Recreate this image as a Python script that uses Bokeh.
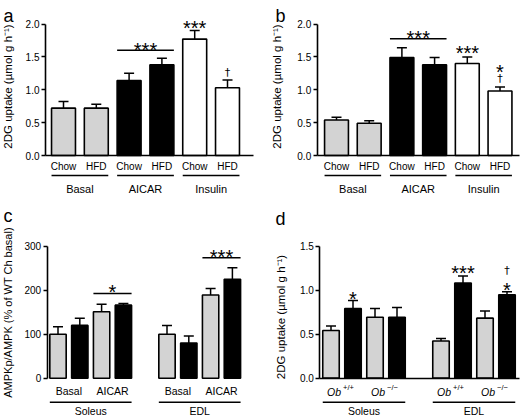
import math
from bokeh.plotting import figure
from bokeh.models import (ColumnDataSource, FixedTicker, PrintfTickFormatter,
                          Whisker, TeeHead, Range1d)
from bokeh.layouts import column, row
from bokeh.embed import file_html
from bokeh.resources import INLINE
from bokeh.core.properties import value

# ---------------- data ----------------
ab_treatments = ["Basal", "AICAR", "Insulin"]
ab_diets = ["Chow", "HFD"]

a_mean = [0.72, 0.72, 1.14, 1.38, 1.77, 1.03]
a_sem = [0.10, 0.06, 0.11, 0.10, 0.13, 0.12]
a_marks = ["", "", "", "", "***", "\u2020"]
a_marks_upper = ["", "", "", "", "", ""]
a_pair_marks = ["", "***", ""]

b_mean = [0.54, 0.49, 1.49, 1.38, 1.40, 0.98]
b_sem = [0.04, 0.04, 0.15, 0.11, 0.10, 0.06]
b_marks = ["", "", "", "", "***", "\u2020"]
b_marks_upper = ["", "", "", "", "", "*"]
b_pair_marks = ["", "***", ""]

c_muscles = ["Soleus", "EDL"]
c_conditions = ["Basal", "AICAR"]
c_mean = [100, 120, 151, 166, 100, 80, 189, 225]
c_sem = [17, 16, 17, 4, 20, 16, 15, 26]
c_pair_marks = ["", "*", "", "***"]

d_muscles = ["Soleus", "EDL"]
d_genotypes = ["+/+", "\u2212/\u2212"]
d_mean = [0.54, 0.79, 0.69, 0.69, 0.42, 1.08, 0.68, 0.945]
d_sem = [0.05, 0.09, 0.10, 0.11, 0.03, 0.08, 0.08, 0.035]
d_marks = ["", "*", "", "", "", "***", "", "*"]
d_marks_upper = ["", "", "", "", "", "", "", "\u2020"]

ylabel_uptake = "2DG uptake (\u00b5mol g h\u207b\u00b9)"
ylabel_ampk = "AMPKp/AMPK (% of WT Ch basal)"

# ---------------- style ----------------
FONT = "Liberation Sans"
DAG_FONT = "DejaVu Sans"
GREY = "#d3d3d3"
STAR_SIZE = 20
DAG_SIZE = 11
STAR_C = 0.40 * STAR_SIZE   # visual centre of asterisk above text anchor
DAG_C = 0.15 * DAG_SIZE


def make_panel(canvas, axis_px, right_px, x_first, slot, zero, ppu, top, ticks, fmt, baseline):
    cl, ct, cw, ch = canvas
    X = lambda px: (px - x_first) / slot
    Y = lambda py: (zero - py) / ppu
    p = figure(width=cw, height=ch,
               x_range=Range1d(X(cl), X(cl + cw)), y_range=Range1d(Y(ct + ch), Y(ct)),
               min_border=0, min_border_left=0, min_border_right=0,
               min_border_top=0, min_border_bottom=0,
               output_backend="svg", toolbar_location=None, tools="",
               x_axis_location="below" if baseline else None, title=None)
    p.outline_line_color = None
    p.grid.visible = False
    p.background_fill_color = "white"
    p.border_fill_color = "white"
    ax = p.yaxis[0]
    ax.fixed_location = X(axis_px)
    ax.ticker = FixedTicker(ticks=ticks)
    ax.formatter = PrintfTickFormatter(format=fmt)
    ax.bounds = (0, top)
    ax.axis_line_width = 1.6
    ax.axis_line_color = "black"
    ax.major_tick_line_width = 1.4
    ax.major_tick_line_color = "black"
    ax.major_tick_out = 4
    ax.major_tick_in = 0
    ax.minor_tick_out = 0
    ax.minor_tick_in = 0
    ax.major_label_text_font = FONT
    ax.major_label_text_font_size = "10px"
    ax.major_label_text_color = "black"
    ax.major_label_standoff = 2
    if baseline:
        xa = p.xaxis[0]
        xa.fixed_location = 0
        xa.bounds = (X(axis_px), X(right_px))
        xa.ticker = FixedTicker(ticks=[])
        xa.major_tick_out = 0
        xa.major_tick_in = 0
        xa.minor_tick_out = 0
        xa.minor_tick_in = 0
        xa.major_label_text_font_size = "0px"
        xa.axis_line_width = 1.6
        xa.axis_line_color = "black"
    return p, X, Y


def bars(p, xs, mean, sem, colors, width):
    hi = [m + s for m, s in zip(mean, sem)]
    src = ColumnDataSource(dict(x=xs, top=mean, hi=hi, color=colors))
    p.add_layout(Whisker(source=src, base="x", lower="top", upper="hi", dimension="height",
                         line_width=1.5, line_color="black",
                         upper_head=TeeHead(size=10, line_width=1.5, line_color="black"),
                         lower_head=None))
    p.vbar(x="x", top="top", bottom=0, width=width, fill_color="color",
           line_color="black", line_width=1.6, source=src)
    return hi


def mark_text(p, xs, ys, texts, size, font=FONT):
    p.text(x=xs, y=ys, text=texts, text_font=value(font), text_font_size=value(f"{size}px"),
           text_align="center", text_baseline="alphabetic", text_color="black")


def bar_marks(p, xs, hi, marks, gaps, ppu):
    """gaps: desired pixel distance from error-bar top to mark centre"""
    sx, sy, st, dx, dy, dt = [], [], [], [], [], []
    for x, h, m, g in zip(xs, hi, marks, gaps):
        if not m:
            continue
        if m == "\u2020":
            dx.append(x); dy.append(h + (g - DAG_C) / ppu); dt.append(m)
        else:
            sx.append(x); sy.append(h + (g - STAR_C) / ppu); st.append(m)
    if st:
        mark_text(p, sx, sy, st, STAR_SIZE)
    if dt:
        mark_text(p, dx, dy, dt, DAG_SIZE, DAG_FONT)


def pair_mark(p, x_left, x_right, hmax, text, line_gap, star_gap, ppu):
    yl = hmax + line_gap / ppu
    p.segment(x0=[x_left], y0=[yl], x1=[x_right], y1=[yl], line_color="black", line_width=1.5)
    mark_text(p, [(x_left + x_right) / 2], [yl + (star_gap - STAR_C) / ppu], [text], STAR_SIZE)


def text_row(p, xs, y, texts, size, style="normal", align="center", x_offset=0, y_offset=0):
    p.text(x=xs, y=[y] * len(xs), text=texts, text_font=value(FONT),
           text_font_size=value(f"{size}px"), text_font_style=style,
           text_align=align, text_baseline="middle", text_color="black",
           x_offset=x_offset, y_offset=y_offset)


def underline(p, segs, y):
    p.segment(x0=[s[0] for s in segs], y0=[y] * len(segs), x1=[s[1] for s in segs],
              y1=[y] * len(segs), line_color="black", line_width=1.5)


def side_labels(p, X, Y, letter, letter_px, title, title_px, title_size):
    p.text(x=[X(letter_px[0])], y=[Y(letter_px[1])], text=[letter], text_font=value(FONT),
           text_font_size=value("18px"), text_align="left", text_baseline="alphabetic",
           text_color="black")
    p.text(x=[X(title_px[0])], y=[Y(title_px[1])], text=[title], text_font=value(FONT),
           text_font_size=value(f"{title_size}px"), text_align="center",
           text_baseline="middle", angle=math.pi / 2, text_color="black")


# ---------------- panels a & b ----------------
def panel_ab(canvas, axis_px, right_px, x_first, slot, mean, sem, marks, marks_upper, gaps,
             upper_gaps, pair_marks, line_gap, star_gap, letter, letter_px, title_px):
    zero, ppu = 155, 65.75
    p, X, Y = make_panel(canvas, axis_px, right_px, x_first, slot, zero, ppu, 2.0,
                         [0, 0.5, 1.0, 1.5, 2.0], "%.1f", True)
    n = len(ab_treatments) * len(ab_diets)
    xs = list(range(n))
    tcol = [GREY, "black", "white"]
    colors = [tcol[i // 2] for i in xs]
    w = 0.73
    hi = bars(p, xs, mean, sem, colors, w)
    bar_marks(p, xs, hi, marks, gaps, ppu)
    bar_marks(p, xs, hi, marks_upper, upper_gaps, ppu)
    for g, m in enumerate(pair_marks):
        if m:
            pair_mark(p, 2 * g - w / 2, 2 * g + 1 + w / 2, max(hi[2 * g:2 * g + 2]), m,
                      line_gap, star_gap, ppu)
    text_row(p, xs, Y(166), [ab_diets[i % 2] for i in xs], 10)
    underline(p, [(2 * g - w / 2, 2 * g + 1 + w / 2) for g in range(len(ab_treatments))], Y(175))
    text_row(p, [2 * g + 0.5 for g in range(len(ab_treatments))], Y(188), ab_treatments, 11)
    side_labels(p, X, Y, letter, letter_px, ylabel_uptake, title_px, 11.5)
    return p


pa = panel_ab((0, 0, 260, 205), 45, 253, 63, 32.8, a_mean, a_sem,
              a_marks, a_marks_upper, [0, 0, 0, 0, 11, 9], [0] * 6,
              a_pair_marks, 8, 8.6, "a", (3, 15.5), (7.5, 86))
pb = panel_ab((260, 0, 260, 205), 316.7, 519, 336, 32.7, b_mean, b_sem,
              b_marks, b_marks_upper, [0, 0, 0, 0, 11.7, 10.7], [0, 0, 0, 0, 0, 23.4],
              b_pair_marks, 9, 8.7, "b", (275, 15.5), (276.7, 86))


# ---------------- panels c & d ----------------
def cd_positions(n_groups, per_group):
    return [g * (per_group + 1) + j for g in range(n_groups) for j in range(per_group)]


def panel_c():
    zero, ppu = 377.7, 132 / 300
    p, X, Y = make_panel((0, 205, 260, 212), 46.7, 255, 57.5, 21.8, zero, ppu,
                         300, [0, 100, 200, 300], "%d", False)
    xs = cd_positions(len(c_muscles), 2 * len(c_conditions))
    colors = [GREY if i % 2 == 0 else "black" for i in range(len(xs))]
    w = 0.75
    hi = bars(p, xs, c_mean, c_sem, colors, w)
    for k, m in enumerate(c_pair_marks):
        if m:
            pair_mark(p, xs[2 * k] - w / 2, xs[2 * k + 1] + w / 2, max(hi[2 * k:2 * k + 2]), m,
                      10, 9, ppu)
    pair_centers = [(xs[2 * k] + xs[2 * k + 1]) / 2 for k in range(len(xs) // 2)]
    text_row(p, pair_centers, Y(390.5), c_conditions * len(c_muscles), 10.5)
    segs = [(xs[4 * g] - w / 2, xs[4 * g + 3] + w / 2) for g in range(len(c_muscles))]
    underline(p, segs, Y(401.7))
    text_row(p, [(a + b) / 2 for a, b in segs], Y(410), c_muscles, 10.5)
    side_labels(p, X, Y, "c", (3, 215.5), ylabel_ampk, (7.5, 312), 11)
    return p


def panel_d():
    zero, ppu = 377.5, 88
    p, X, Y = make_panel((260, 205, 260, 212), 319.3, 519, 330.5, 22.0, zero, ppu,
                         1.5, [0, 0.5, 1.0, 1.5], "%.1f", True)
    xs = cd_positions(len(d_muscles), 2 * len(d_genotypes))
    colors = [GREY if i % 2 == 0 else "black" for i in range(len(xs))]
    w = 0.75
    hi = bars(p, xs, d_mean, d_sem, colors, w)
    bar_marks(p, xs, hi, d_marks, [0, 9.5, 0, 0, 0, 11.3, 0, 9.5], ppu)
    bar_marks(p, xs, hi, d_marks_upper, [0, 0, 0, 0, 0, 0, 0, 22.5], ppu)
    pair_centers = [(xs[2 * k] + xs[2 * k + 1]) / 2 for k in range(len(xs) // 2)]
    text_row(p, pair_centers, Y(391), ["Ob"] * len(pair_centers), 10.5, style="italic",
             align="right", x_offset=-1)
    text_row(p, pair_centers, Y(391), d_genotypes * len(d_muscles), 7.5,
             align="left", x_offset=1, y_offset=-4)
    segs = [(xs[4 * g] - w / 2, xs[4 * g + 3] + w / 2) for g in range(len(d_muscles))]
    underline(p, segs, Y(401.7))
    text_row(p, [(a + b) / 2 for a, b in segs], Y(410), d_muscles, 10.5)
    side_labels(p, X, Y, "d", (275, 218.5), ylabel_uptake, (280, 316.5), 11.5)
    return p


pc = panel_c()
pd_ = panel_d()

layout = column(row(pa, pb), row(pc, pd_))
open("out.html", "w").write(file_html(layout, INLINE))
